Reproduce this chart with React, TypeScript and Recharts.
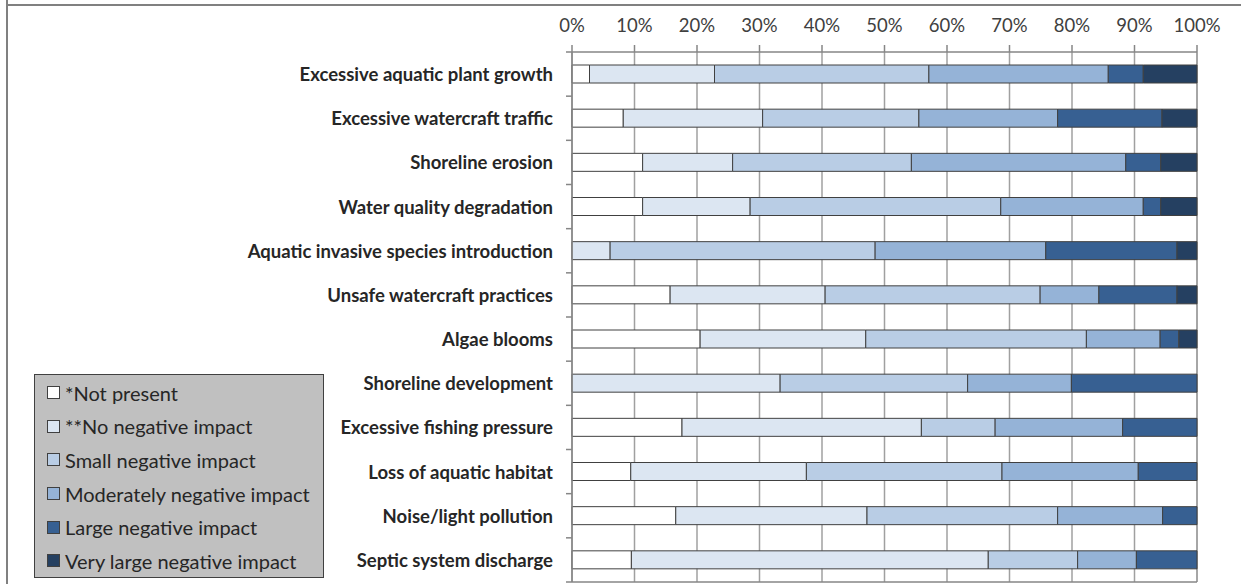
import React from 'react';
import { BarChart, Bar, XAxis, YAxis, CartesianGrid, Legend } from 'recharts';

const categories = [
  'Excessive aquatic plant growth',
  'Excessive watercraft traffic',
  'Shoreline erosion',
  'Water quality degradation',
  'Aquatic invasive species introduction',
  'Unsafe watercraft practices',
  'Algae blooms',
  'Shoreline development',
  'Excessive fishing pressure',
  'Loss of aquatic habitat',
  'Noise/light pollution',
  'Septic system discharge',
];

// percent of responses per category
const notPresent = [2.8, 8.2, 11.3, 11.3, 0, 15.7, 20.5, 0, 17.6, 9.4, 16.6, 9.5];
const noNegative = [20.0, 22.3, 14.4, 17.2, 6.1, 24.8, 26.5, 33.3, 38.3, 28.1, 30.6, 57.1];
const smallNegative = [34.3, 25.0, 28.6, 40.1, 42.4, 34.4, 35.3, 30.0, 11.8, 31.3, 30.5, 14.3];
const moderateNegative = [28.7, 22.2, 34.3, 22.8, 27.3, 9.4, 11.8, 16.6, 20.4, 21.8, 16.8, 9.4];
const largeNegative = [5.6, 16.7, 5.6, 2.8, 21.0, 12.5, 3.0, 20.1, 11.9, 9.4, 5.5, 9.7];
const veryLargeNegative = [8.6, 5.6, 5.8, 5.8, 3.2, 3.2, 2.9, 0, 0, 0, 0, 0];

const percentTicks = [0, 10, 20, 30, 40, 50, 60, 70, 80, 90, 100];

const series = [
  { key: 'notPresent', name: '*Not present', values: notPresent, color: '#ffffff' },
  { key: 'noNegative', name: '**No negative impact', values: noNegative, color: '#dce6f2' },
  { key: 'small', name: 'Small negative impact', values: smallNegative, color: '#b9cde5' },
  { key: 'moderate', name: 'Moderately negative impact', values: moderateNegative, color: '#95b3d7' },
  { key: 'large', name: 'Large negative impact', values: largeNegative, color: '#376092' },
  { key: 'veryLarge', name: 'Very large negative impact', values: veryLargeNegative, color: '#254061' },
];

const data = categories.map((name, i) => {
  const row: Record<string, string | number> = { name };
  series.forEach((s) => {
    row[s.key] = s.values[i];
  });
  return row;
});

const FONT = 'Lato, "Open Sans", sans-serif';
const PLOT_TOP = 52;
const PLOT_BOTTOM = 582;
const BAND = (PLOT_BOTTOM - PLOT_TOP) / categories.length;

const CategoryTick = (props: any) => {
  const { x, y, payload, index } = props;
  const axisX = x + 19;
  return (
    <g>
      <text
        x={x}
        y={y}
        textAnchor="end"
        dominantBaseline="central"
        fontFamily={FONT}
        fontWeight="bold"
        fontSize={18.5}
        fill="#262626"
      >
        {payload.value}
      </text>
      <line x1={axisX - 6} x2={axisX} y1={y - BAND / 2} y2={y - BAND / 2} stroke="#868686" strokeWidth={1.5} />
      {index === categories.length - 1 && (
        <line x1={axisX - 6} x2={axisX} y1={y + BAND / 2} y2={y + BAND / 2} stroke="#868686" strokeWidth={1.5} />
      )}
    </g>
  );
};

// legend keeps the series order (not sorted)
const renderLegend = () => (
  <div
    style={{
      background: '#c0c0c0',
      border: '1px solid #404040',
      boxSizing: 'border-box',
      width: '100%',
      height: '100%',
      padding: '1px 0 0 12px',
      fontFamily: FONT,
      fontSize: 20,
      color: '#262626',
    }}
  >
    {series.map((s) => (
      <div key={s.key} style={{ display: 'flex', alignItems: 'center', height: 33.6 }}>
        <span
          style={{
            display: 'inline-block',
            width: 11,
            height: 11,
            background: s.color,
            border: '1px solid #404040',
            marginRight: 5,
          }}
        />
        <span>{s.name}</span>
      </div>
    ))}
  </div>
);

export default function App() {
  return (
    <div style={{ position: 'absolute', left: 0, top: 0, width: 1241, height: 584, background: '#fff' }}>
      <div style={{ position: 'absolute', left: 6, top: 0, width: 2, height: 584, background: '#808080' }} />
      <div style={{ position: 'absolute', left: 6, top: 4, width: 1235, height: 2, background: '#808080' }} />
      <div style={{ position: 'absolute', left: 0, top: 0 }}>
        <BarChart
          width={1241}
          height={584}
          data={data}
          layout="vertical"
          barSize={18}
          margin={{ top: 0, right: 44, bottom: 0, left: 0 }}
        >
          <CartesianGrid horizontal={false} stroke="#a0a0a0" strokeWidth={1.5} />
          <XAxis
            type="number"
            orientation="top"
            domain={[0, 100]}
            ticks={percentTicks}
            interval={0}
            tickFormatter={(v) => `${v}%`}
            height={52}
            tickSize={7}
            tickMargin={13}
            stroke="#868686"
            strokeWidth={1.5}
            tick={{ fill: '#404040', fontSize: 18.5, fontFamily: FONT }}
          />
          <XAxis
            xAxisId="bottom"
            type="number"
            orientation="bottom"
            domain={[0, 100]}
            tick={false}
            tickLine={false}
            height={2}
            stroke="#868686"
            strokeWidth={1.5}
          />
          <YAxis
            type="category"
            dataKey="name"
            width={572}
            tickLine={false}
            tickSize={6}
            tickMargin={13}
            interval={0}
            stroke="#868686"
            strokeWidth={1.5}
            tick={<CategoryTick />}
          />
          <Legend
            layout="vertical"
            align="center"
            verticalAlign="middle"
            content={renderLegend}
            wrapperStyle={{ left: 34, top: 374, width: 290, height: 204 }}
          />
          {series.map((s) => (
            <Bar
              key={s.key}
              dataKey={s.key}
              name={s.name}
              stackId="a"
              fill={s.color}
              stroke="#404040"
              strokeWidth={1}
              isAnimationActive={false}
            />
          ))}
        </BarChart>
      </div>
    </div>
  );
}
